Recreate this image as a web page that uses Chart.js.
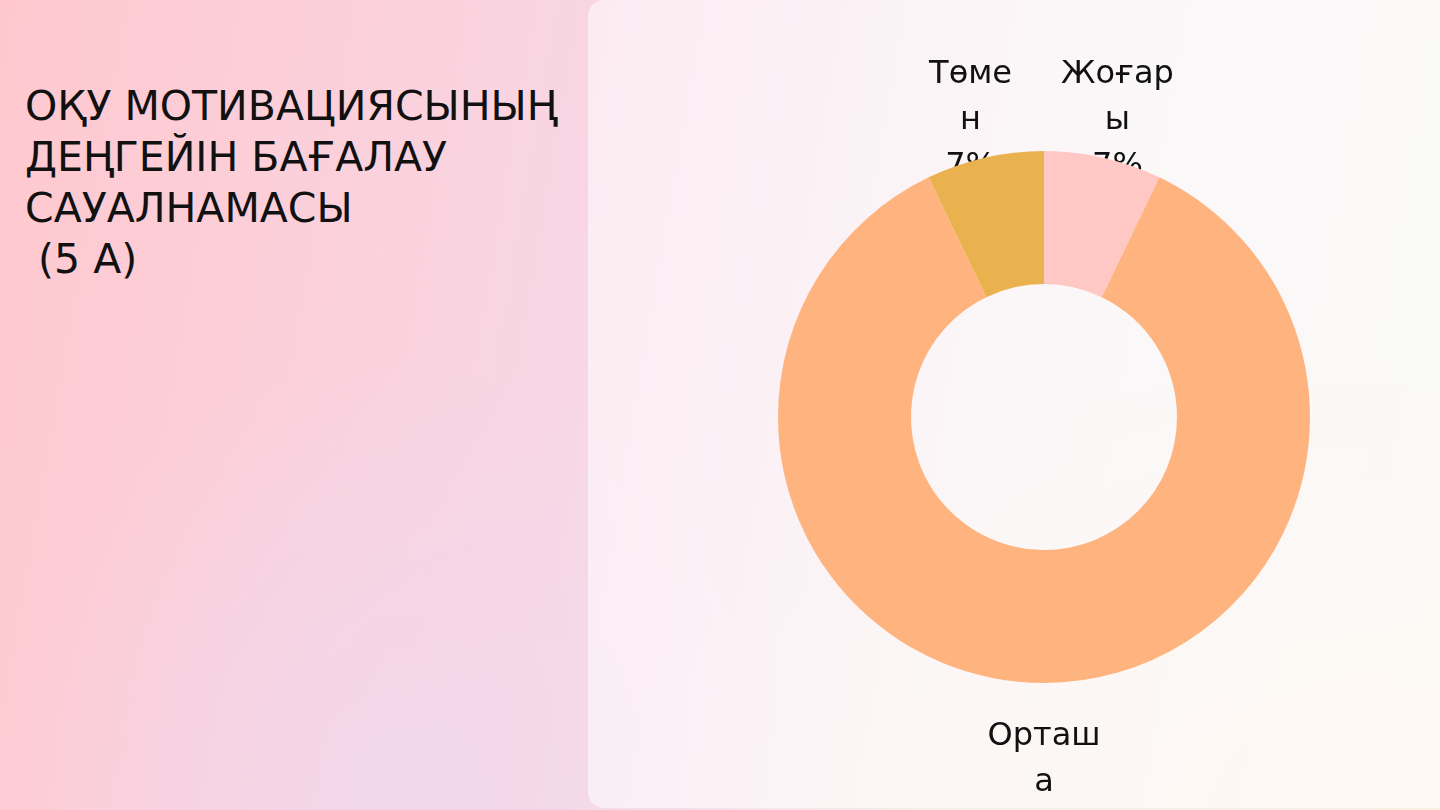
<!DOCTYPE html>
<html>
<head>
<meta charset="utf-8">
<script src="https://cdn.jsdelivr.net/npm/chart.js@4"></script>
<style>
  html, body { margin: 0; padding: 0; }
  body {
    width: 1440px; height: 810px; overflow: hidden; position: relative;
    font-family: "DejaVu Sans", sans-serif;
    background:
      radial-gradient(ellipse at 100% 100%, rgba(255,238,225,0.8), rgba(255,238,225,0) 40%),
      linear-gradient(100deg, #ffc8cf 0%, #f8d6e4 40%, #f5eef0 70%, #f2f3ee 100%);
  }
  #bottomTint {
    position: absolute; left: 0; top: 350px; width: 800px; height: 460px;
    background: radial-gradient(ellipse at 50% 95%, rgba(240,216,238,0.8), rgba(240,216,238,0) 70%);
  }
  #panel {
    position: absolute; left: 588px; top: 0; width: 880px; height: 808px;
    border-radius: 16px;
    background: rgba(255,255,255,0.55);
  }
  #title {
    position: absolute; left: 25px; top: 81px;
    font-size: 41px; line-height: 51px; color: #111;
    white-space: pre;
  }
  #wrap { position: absolute; left: 0; top: 0; width: 1440px; height: 810px; }
</style>
</head>
<body>
<div id="bottomTint"></div>
<div id="panel"></div>
<div id="title">ОҚУ МОТИВАЦИЯСЫНЫҢ
ДЕҢГЕЙІН БАҒАЛАУ
САУАЛНАМАСЫ
 (5 А)</div>
<div id="wrap"><canvas id="myChart" width="1440" height="810"></canvas></div>
<script>
'use strict'

// деңгейлер (labels wrapped like the slide)
const levels = ['Жоғары', 'Орташа', 'Төмен'];
const labelLines = [['Жоғар', 'ы'], ['Орташ', 'а'], ['Төме', 'н']];
const counts = [1, 12, 1];
const colors = ['#ffc8c4', '#ffb47f', '#eab24f'];

// draws the outside labels before the arcs, so the ring covers the percent line
const outsideLabels = {
  id: 'outsideLabels',
  beforeDatasetsDraw(chart) {
    const c = chart.ctx;
    const meta = chart.getDatasetMeta(0);
    const total = counts.reduce((a, b) => a + b, 0);
    c.save();
    c.font = '32px "DejaVu Sans"';
    c.fillStyle = '#111';
    c.textAlign = 'center';
    c.textBaseline = 'middle';
    for (let i = 0; i < meta.data.length; i++) {
      let arc = meta.data[i];
      let mid = (arc.startAngle + arc.endAngle) / 2;
      let dx = Math.cos(mid);
      let dy = Math.sin(mid);
      let x = arc.x + dx * (arc.outerRadius + 64);
      let y = arc.y + dy * (arc.outerRadius + 38);
      if (dy > 0) y += dy * 62;
      let lines = labelLines[i].concat([Math.round(counts[i] / total * 100) + '%']);
      for (let j = 0; j < lines.length; j++) {
        c.fillText(lines[j], x, y + (j - 1) * 46);
      }
    }
    c.restore();
  }
};

let ctx = document.getElementById('myChart');

new Chart(ctx, {
  type: 'doughnut',
  data: {
    labels: levels,
    datasets: [{
      data: counts,
      backgroundColor: colors,
      borderWidth: 0,
      hoverOffset: 0
    }]
  },
  options: {
    responsive: false,
    animation: false,
    cutout: '50%',
    layout: {
      padding: { left: 778, right: 130, top: 151, bottom: 127 }
    },
    plugins: {
      legend: { display: false },
      tooltip: { enabled: false }
    }
  },
  plugins: [outsideLabels]
});
</script>
</body>
</html>
